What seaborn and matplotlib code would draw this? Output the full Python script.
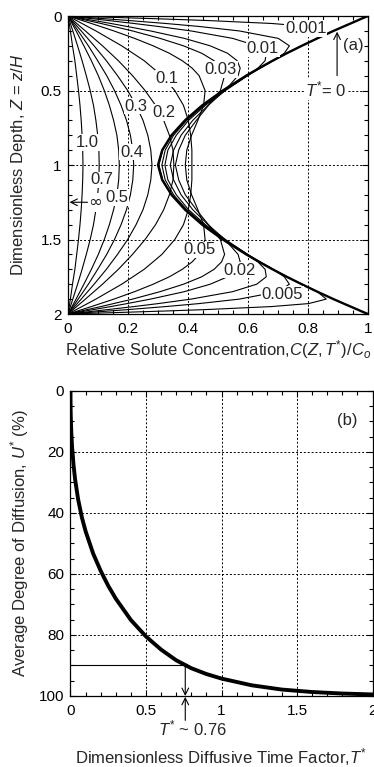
import matplotlib
matplotlib.use("Agg")
import matplotlib.pyplot as plt
from matplotlib.ticker import MultipleLocator, FuncFormatter
import numpy as np
import pandas as pd
import seaborn as sns

# ---------------- panel (a): concentration profiles C(Z,T*)/Co ----------------
# depth grid used for the early-time curves (fine near both boundaries)
Z_FINE = [0.0, 0.01, 0.02, 0.03, 0.05, 0.07, 0.1, 0.15, 0.2, 0.25, 0.3, 0.35, 0.4,
          0.5, 0.6, 0.7, 0.8, 0.9, 1.0, 1.1, 1.2, 1.3, 1.4, 1.5, 1.6, 1.65, 1.7,
          1.75, 1.8, 1.85, 1.9, 1.93, 1.95, 1.97, 1.98, 1.99, 2.0]

C_T0 = [1.0, 0.988, 0.976, 0.965, 0.942, 0.919, 0.885, 0.831, 0.779, 0.729, 0.682,
        0.637, 0.594, 0.516, 0.447, 0.390, 0.345, 0.314, 0.300, 0.314, 0.345, 0.390,
        0.447, 0.516, 0.594, 0.637, 0.682, 0.729, 0.779, 0.831, 0.885, 0.919, 0.942,
        0.965, 0.976, 0.988, 1.0]
C_T0001 = [0.0, 0.165, 0.322, 0.463, 0.679, 0.802, 0.861, 0.831, 0.780, 0.730, 0.683,
           0.638, 0.595, 0.517, 0.449, 0.392, 0.347, 0.316, 0.303, 0.316, 0.347, 0.392,
           0.449, 0.517, 0.595, 0.638, 0.683, 0.730, 0.780, 0.831, 0.861, 0.802, 0.679,
           0.463, 0.322, 0.165, 0.0]
C_T0005 = [0.0, 0.068, 0.136, 0.202, 0.326, 0.437, 0.571, 0.701, 0.738, 0.721, 0.684,
           0.641, 0.599, 0.521, 0.453, 0.396, 0.352, 0.324, 0.313, 0.324, 0.352, 0.396,
           0.453, 0.521, 0.599, 0.641, 0.684, 0.721, 0.738, 0.701, 0.571, 0.437, 0.326,
           0.202, 0.136, 0.068, 0.0]
C_T001 = [0.0, 0.045, 0.090, 0.134, 0.220, 0.301, 0.410, 0.549, 0.629, 0.661, 0.657,
          0.633, 0.599, 0.525, 0.458, 0.402, 0.361, 0.333, 0.323, 0.333, 0.361, 0.402,
          0.458, 0.525, 0.599, 0.633, 0.657, 0.661, 0.629, 0.549, 0.410, 0.301, 0.220,
          0.134, 0.090, 0.045, 0.0]
C_T002 = [0.0, 0.029, 0.057, 0.086, 0.143, 0.197, 0.275, 0.388, 0.474, 0.532, 0.564,
          0.574, 0.567, 0.523, 0.467, 0.416, 0.377, 0.352, 0.341, 0.352, 0.377, 0.416,
          0.467, 0.523, 0.567, 0.574, 0.564, 0.532, 0.474, 0.388, 0.275, 0.197, 0.143,
          0.086, 0.057, 0.029, 0.0]
C_T003 = [0.0, 0.022, 0.043, 0.065, 0.110, 0.152, 0.215, 0.307, 0.385, 0.446, 0.487,
          0.512, 0.522, 0.508, 0.468, 0.428, 0.391, 0.369, 0.358, 0.369, 0.391, 0.428,
          0.468, 0.508, 0.522, 0.512, 0.487, 0.446, 0.385, 0.307, 0.215, 0.152, 0.110,
          0.065, 0.043, 0.022, 0.0]
C_T005 = [0.0, 0.016, 0.031, 0.047, 0.078, 0.108, 0.153, 0.222, 0.284, 0.338, 0.381,
          0.414, 0.437, 0.457, 0.452, 0.433, 0.412, 0.396, 0.391, 0.396, 0.412, 0.433,
          0.452, 0.457, 0.437, 0.414, 0.381, 0.338, 0.284, 0.222, 0.153, 0.108, 0.078,
          0.047, 0.031, 0.016, 0.0]

# depth grid used for the later curves
Z_COARSE = [0.0, 0.1, 0.2, 0.3, 0.4, 0.5, 0.6, 0.7, 0.8, 0.9, 1.0,
            1.1, 1.2, 1.3, 1.4, 1.5, 1.6, 1.7, 1.8, 1.9, 2.0]
C_T01 = [0.0, 0.093, 0.179, 0.254, 0.313, 0.356, 0.385, 0.401, 0.409, 0.413, 0.413,
         0.413, 0.409, 0.401, 0.385, 0.356, 0.313, 0.254, 0.179, 0.093, 0.0]
C_T02 = [0.0, 0.058, 0.115, 0.168, 0.215, 0.257, 0.292, 0.319, 0.338, 0.350, 0.353,
         0.350, 0.338, 0.319, 0.292, 0.257, 0.215, 0.168, 0.115, 0.058, 0.0]
C_T03 = [0.0, 0.044, 0.087, 0.128, 0.165, 0.199, 0.227, 0.250, 0.266, 0.276, 0.280,
         0.276, 0.266, 0.250, 0.227, 0.199, 0.165, 0.128, 0.087, 0.044, 0.0]
C_T04 = [0.0, 0.034, 0.068, 0.099, 0.129, 0.155, 0.177, 0.195, 0.208, 0.216, 0.219,
         0.216, 0.208, 0.195, 0.177, 0.155, 0.129, 0.099, 0.068, 0.034, 0.0]
C_T05 = [0.0, 0.027, 0.053, 0.078, 0.101, 0.121, 0.138, 0.152, 0.163, 0.169, 0.171,
         0.169, 0.163, 0.152, 0.138, 0.121, 0.101, 0.078, 0.053, 0.027, 0.0]
C_T07 = [0.0, 0.016, 0.032, 0.047, 0.061, 0.074, 0.085, 0.093, 0.099, 0.103, 0.104,
         0.103, 0.099, 0.093, 0.085, 0.074, 0.061, 0.047, 0.032, 0.016, 0.0]
C_T10 = [0.0, 0.008, 0.015, 0.023, 0.029, 0.035, 0.040, 0.044, 0.047, 0.049, 0.050,
         0.049, 0.047, 0.044, 0.040, 0.035, 0.029, 0.023, 0.015, 0.008, 0.0]

FINE_CURVES = {0.001: C_T0001, 0.005: C_T0005, 0.01: C_T001, 0.02: C_T002,
               0.03: C_T003, 0.05: C_T005}
COARSE_CURVES = {0.1: C_T01, 0.2: C_T02, 0.3: C_T03, 0.4: C_T04, 0.5: C_T05,
                 0.7: C_T07, 1.0: C_T10}

# curve labels: (text, C, Z)
CURVE_LABELS = [("0.001", 0.793, 0.084), ("0.01", 0.65, 0.218), ("0.03", 0.51, 0.36),
                ("0.05", 0.437, 1.57), ("0.02", 0.573, 1.705), ("0.005", 0.714, 1.866),
                ("0.1", 0.33, 0.42), ("0.2", 0.32, 0.648), ("0.3", 0.227, 0.604),
                ("0.4", 0.212, 0.913), ("1.0", 0.065, 0.849), ("0.7", 0.112, 1.10),
                ("0.5", 0.162, 1.218)]

# ---------------- panel (b): average degree of diffusion ----------------
T_U = [0.0, 0.0005, 0.001, 0.002, 0.005, 0.01, 0.02, 0.03, 0.05, 0.075, 0.1, 0.15,
       0.2, 0.25, 0.3, 0.4, 0.5, 0.6, 0.7, 0.8, 0.9, 1.0, 1.2, 1.4, 1.6, 1.8, 2.0]
U_PCT = [0.0, 4.4, 6.2, 8.6, 13.2, 18.0, 24.2, 28.8, 35.4, 41.4, 46.0, 53.3, 59.0,
         63.9, 68.1, 75.1, 80.5, 84.8, 88.3, 90.9, 92.8, 94.3, 96.5, 97.9, 98.7,
         99.2, 99.5]
T_90 = 0.76
U_90 = 90


def long_table(z, curves):
    rows = []
    for t, vals in curves.items():
        for zz, cc in zip(z, vals):
            rows.append({"T": t, "Z": zz, "C": cc})
    return pd.DataFrame(rows)


def style_axes(ax, xmaj, xmin, ymaj, ymin):
    ax.xaxis.set_major_locator(MultipleLocator(xmaj))
    ax.xaxis.set_minor_locator(MultipleLocator(xmin))
    ax.yaxis.set_major_locator(MultipleLocator(ymaj))
    ax.yaxis.set_minor_locator(MultipleLocator(ymin))
    fmt = FuncFormatter(lambda v, p: f"{v:g}")
    ax.xaxis.set_major_formatter(fmt)
    ax.yaxis.set_major_formatter(fmt)
    ax.tick_params(which="both", direction="in", top=True, right=True,
                   colors="black", labelsize=11, width=0.8)
    ax.tick_params(which="major", length=4)
    ax.tick_params(which="minor", length=3)
    ax.tick_params(axis="x", which="major", pad=5.5)
    ax.tick_params(axis="y", which="major", pad=4.5)
    ax.grid(True, which="major", color="black", lw=0.7, ls=(0, (2, 2)))
    for s in ax.spines.values():
        s.set_linewidth(0.9)
        s.set_color("black")


sns.set_theme(style="ticks")
plt.rcParams["font.family"] = ["Liberation Sans", "DejaVu Sans"]
plt.rcParams["mathtext.fontset"] = "custom"
plt.rcParams["mathtext.rm"] = "Liberation Sans"
plt.rcParams["mathtext.it"] = "Liberation Sans:italic"
plt.rcParams["axes.facecolor"] = "white"

fig = plt.figure(figsize=(3.74, 7.67), dpi=100)
ax_a = fig.add_axes([0.1818, 0.5906, 0.8021, 0.3885])
ax_b = fig.add_axes([0.1885, 0.0926, 0.8075, 0.3977])

# ---- panel (a)
df_fine = long_table(Z_FINE, FINE_CURVES)
df_coarse = long_table(Z_COARSE, COARSE_CURVES)
df_init = long_table(Z_FINE, {0.0: C_T0})

for df in (df_fine, df_coarse):
    sns.lineplot(data=df, x="C", y="Z", units="T", estimator=None, sort=False,
                 color="black", lw=0.8, ax=ax_a, legend=False)
sns.lineplot(data=df_init, x="C", y="Z", estimator=None, sort=False,
             color="black", lw=1.7, ax=ax_a, legend=False)

ax_a.set_xlim(0, 1)
ax_a.set_ylim(2, 0)
style_axes(ax_a, 0.2, 0.05, 0.5, 0.1)

for txt, cx, zy in CURVE_LABELS:
    ax_a.text(cx, zy, txt, fontsize=12, ha="center", va="center",
              bbox=dict(fc="white", ec="none", pad=0.5), zorder=5)

ax_a.text(0.95, 0.195, "(a)", fontsize=12, ha="center", va="center",
          bbox=dict(fc="white", ec="none", pad=0.5), zorder=5)
ax_a.annotate("", xy=(0.897, 0.105), xytext=(0.897, 0.40),
              arrowprops=dict(arrowstyle="->", color="black", lw=0.8,
                              shrinkA=0, shrinkB=0), zorder=6)
ax_a.text(0.86, 0.49, "$T^{*}$= 0", fontsize=12, ha="center", va="center",
          bbox=dict(fc="white", ec="none", pad=0.5), zorder=5)
ax_a.annotate("", xy=(0.005, 1.25), xytext=(0.065, 1.25),
              arrowprops=dict(arrowstyle="->", color="black", lw=0.8,
                              shrinkA=0, shrinkB=0), zorder=6)
ax_a.text(0.067, 1.25, "\u221e", fontsize=12, ha="left", va="center",
          family=["DejaVu Sans"], bbox=dict(fc="white", ec="none", pad=0.3), zorder=5)

ax_a.set_xlabel("Relative Solute Concentration,$C(Z,T^{*})/C_o$", fontsize=12)
ax_a.set_ylabel("Dimensionless Depth, $Z$ = $z/H$", fontsize=12)
ax_a.xaxis.set_label_coords(0.5, -0.08)
ax_a.yaxis.set_label_coords(-0.132, 0.5)

# ---- panel (b)
sns.lineplot(x=T_U, y=U_PCT, ax=ax_b, color="black", lw=2.8, sort=False,
             estimator=None)
ax_b.set_xlim(0, 2)
ax_b.set_ylim(100, 0)
style_axes(ax_b, 0.5, 0.1, 20, 5)

ax_b.plot([0, T_90], [U_90, U_90], color="black", lw=0.8)
ax_b.annotate("", xy=(T_90, 100), xytext=(T_90, U_90),
              arrowprops=dict(arrowstyle="->", color="black", lw=0.8,
                              shrinkA=0, shrinkB=0))
ax_b.annotate("", xy=(T_90, 100.3), xytext=(T_90, 108.0),
              arrowprops=dict(arrowstyle="->", color="black", lw=0.8,
                              shrinkA=0, shrinkB=0), annotation_clip=False)
ax_b.text(0.81, 110.6, "$T^{*}$ ~ 0.76", fontsize=12, ha="center", va="center",
          clip_on=False)
ax_b.text(1.83, 9.8, "(b)", fontsize=12, ha="center", va="center")

ax_b.set_xlabel("Dimensionless Diffusive Time Factor,$T^{*}$", fontsize=12)
ax_b.set_ylabel("Average Degree of Diffusion, $U^{*}$ (%)", fontsize=12)
ax_b.xaxis.set_label_coords(0.5, -0.163)
ax_b.yaxis.set_label_coords(-0.132, 0.5)

fig.savefig("out.png", dpi=100, facecolor="white")
